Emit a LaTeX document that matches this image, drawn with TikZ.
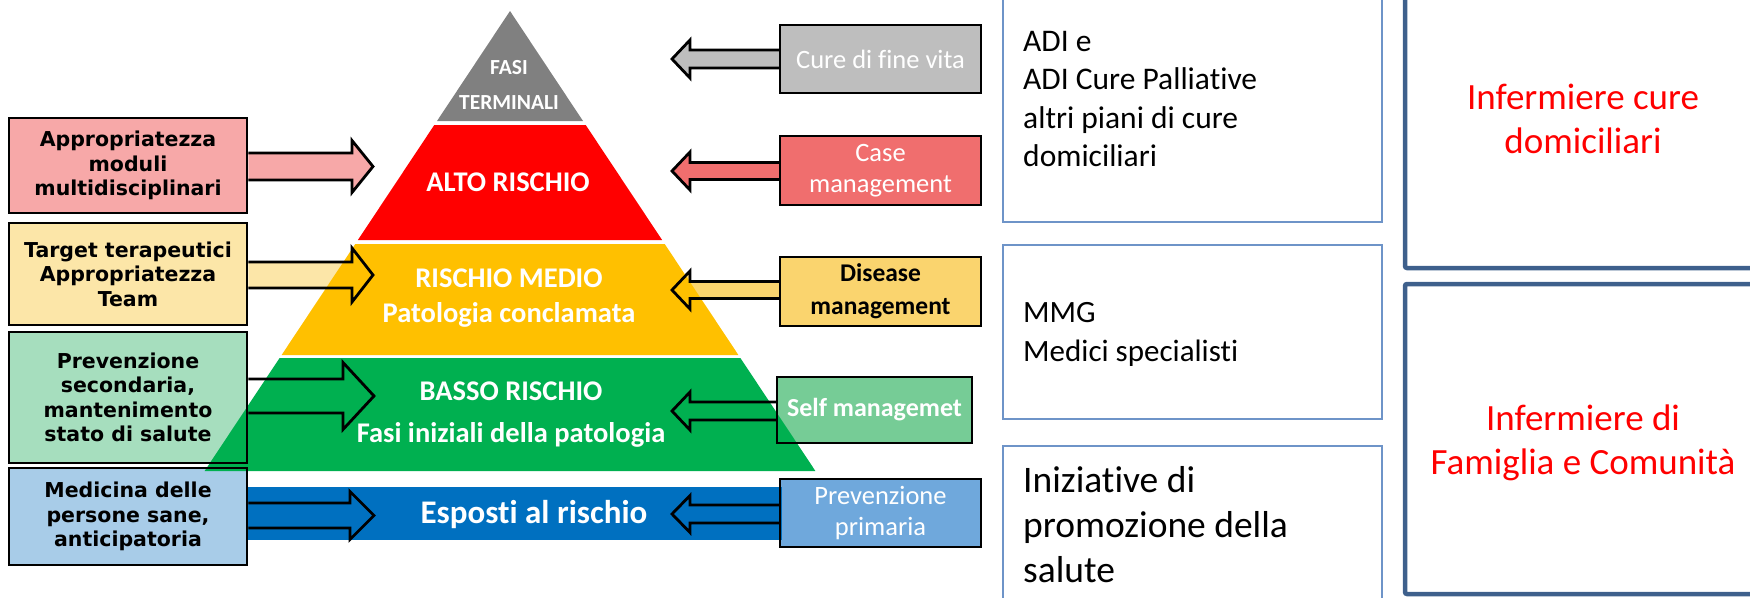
\documentclass[tikz,border=0pt]{standalone}
\usepackage{fontspec}
\setmainfont[Ligatures={NoCommon,NoRare,NoContextual}]{Carlito}
\newfontfamily\verd{DejaVu Sans}
\usetikzlibrary{calc}
\pgfdeclarelayer{bg}
\pgfdeclarelayer{mid}
\pgfsetlayers{bg,mid,main}
\definecolor{pgray}{RGB}{128,128,128}
\definecolor{pred}{RGB}{255,0,0}
\definecolor{pyel}{RGB}{255,192,0}
\definecolor{pgreen}{RGB}{0,176,80}
\definecolor{pblue}{RGB}{0,112,192}
\definecolor{lpink}{RGB}{247,168,168}
\definecolor{lyel}{RGB}{252,230,168}
\definecolor{lgreen}{RGB}{166,222,190}
\definecolor{lblue}{RGB}{168,204,232}
\definecolor{rgray}{RGB}{190,190,190}
\definecolor{rsalmon}{RGB}{240,110,110}
\definecolor{ryel}{RGB}{250,212,110}
\definecolor{rgreen}{RGB}{118,204,150}
\definecolor{rblue}{RGB}{111,168,220}
\definecolor{cthree}{RGB}{110,148,200}
\definecolor{cfour}{RGB}{62,96,140}
% rightward block arrow: #1 box anchor, #2 tip, #3 head length, #4 shaft half, #5 head half, #6 options
\newcommand\rarr[6]{\path[#6] let \p1=(#1), \p2=(#2) in
  (\x1,{\y2+#4pt}) -- ({\x2-#3pt},{\y2+#4pt}) -- ({\x2-#3pt},{\y2+#5pt}) -- (\x2,\y2)
  -- ({\x2-#3pt},{\y2-#5pt}) -- ({\x2-#3pt},{\y2-#4pt}) -- (\x1,{\y2-#4pt});}
\newcommand\larr[6]{\path[#6] let \p1=(#1), \p2=(#2) in
  (\x1,{\y2+#4pt}) -- ({\x2+#3pt},{\y2+#4pt}) -- ({\x2+#3pt},{\y2+#5pt}) -- (\x2,\y2)
  -- ({\x2+#3pt},{\y2-#5pt}) -- ({\x2+#3pt},{\y2-#4pt}) -- (\x1,{\y2-#4pt});}
\tikzset{
  lbox/.style={draw=black, line width=2.5pt, inner sep=0pt, align=center,
    font=\verd\bfseries\fontsize{20.5}{24.5}\selectfont},
  rbox/.style={draw=black, line width=2.5pt, inner sep=0pt, align=center,
    font=\fontsize{26.5}{31}\selectfont},
  tier/.style={text=white, align=center, inner sep=0pt},
  arrowline/.style={draw=black, line width=2.8pt, line join=miter},
  cthreebox/.style={draw=cthree, line width=1.8pt, inner sep=0pt},
  cfourbox/.style={draw=cfour, line width=4.5pt, rounded corners=2pt, inner sep=0pt},
  ctext/.style={anchor=west, align=left, inner sep=0pt},
  redtext/.style={text=red, align=center, inner sep=0pt, font=\fontsize{37}{44}\selectfont}
}
\begin{document}
\begin{tikzpicture}[x=1pt,y=-1pt]
\useasboundingbox (0,0) rectangle (1750,597);
\clip (0,0) rectangle (1750,597);
% left boxes
\node[lbox, minimum width=238, minimum height=95] (b1) at (128,165.5) {Appropriatezza\\moduli\\multidisciplinari};
\node[lbox, minimum width=238, minimum height=102] (b2) at (128,274) {Target terapeutici\\Appropriatezza\\Team};
\node[lbox, minimum width=238, minimum height=131] (b3) at (128,397.5) {Prevenzione\\secondaria,\\mantenimento\\stato di salute};
\node[lbox, minimum width=238, minimum height=97] (b4) at (128,516.5) {Medicina delle\\persone sane,\\anticipatoria};
% right boxes
\node[rbox, text=white, minimum width=201, minimum height=68] (r1) at (880.5,59) {Cure di fine vita};
\node[rbox, text=white, minimum width=201, minimum height=69] (r2) at (880.5,170.5) {Case\\management};
\node[rbox, text=black, font=\bfseries\fontsize{25.5}{33}\selectfont, minimum width=201, minimum height=69] (r3) at (880.5,291.5) {Disease\\management};
\node[rbox, text=white, font=\bfseries\fontsize{26}{31}\selectfont, minimum width=195, minimum height=66] (r4) at (874.5,410) {Self managemet};
\node[rbox, text=white, minimum width=201, minimum height=68] (r5) at (880.5,513) {Prevenzione\\primaria};
% arrow tips
\coordinate (t1) at (373,166.5);
\coordinate (t2) at (373,275);
\coordinate (t3) at (374,396);
\coordinate (t4) at (374,515.5);
\coordinate (u1) at (672,59);
\coordinate (u2) at (672,171);
\coordinate (u3) at (672,290);
\coordinate (u4) at (672,411);
\coordinate (u5) at (672,514);
% fills below the pyramid
\begin{pgfonlayer}{bg}
  \fill[lpink] (b1.south west) rectangle (b1.north east);
  \fill[lyel] (b2.south west) rectangle (b2.north east);
  \fill[lgreen] (b3.south west) rectangle (b3.north east);
  \fill[lblue] (b4.south west) rectangle (b4.north east);
  \fill[rgray] (r1.south west) rectangle (r1.north east);
  \fill[rsalmon] (r2.south west) rectangle (r2.north east);
  \fill[ryel] (r3.south west) rectangle (r3.north east);
  \fill[rgreen] (r4.south west) rectangle (r4.north east);
  \fill[rblue] (r5.south west) rectangle (r5.north east);
  \rarr{b1.east}{t1}{21}{13.5}{26}{fill=lpink}
  \rarr{b2.east}{t2}{21}{13}{27}{fill=lyel}
  \larr{r1.west}{u1}{18}{9}{19}{fill=rgray}
  \larr{r2.west}{u2}{18}{8.5}{19}{fill=rsalmon}
  \larr{r3.west}{u3}{18}{8.5}{19}{fill=ryel}
\end{pgfonlayer}
% pyramid and band
\begin{pgfonlayer}{mid}
  \fill[pgray] (510,11) -- (583,121) -- (437,121) -- cycle;
  \fill[pred] (434.3,125) -- (585.7,125) -- (662.1,240) -- (357.9,240) -- cycle;
  \fill[pyel] (355.3,244) -- (664.7,244) -- (738.4,355) -- (281.6,355) -- cycle;
  \fill[pgreen] (279.6,358) -- (740.4,358) -- (815.4,471) -- (204.6,471) -- cycle;
  \fill[pblue] (247,487) rectangle (782,540);
\end{pgfonlayer}
% tier labels
\node[tier, font=\bfseries\fontsize{21.5}{35}\selectfont] (tfasi) at (509,84.5) {FASI\\TERMINALI};
\node[tier, font=\bfseries\fontsize{28.5}{32}\selectfont] (talto) at (508,182) {ALTO RISCHIO};
\node[tier, font=\bfseries\fontsize{28.5}{35}\selectfont] (tmedio) at (509,298.5) {RISCHIO MEDIO\\Patologia conclamata};
\node[tier, font=\bfseries\fontsize{28.5}{42}\selectfont] (tbasso) at (511,415) {BASSO RISCHIO\\Fasi iniziali della patologia};
\node[tier, font=\bfseries\fontsize{33}{38}\selectfont] (tesp) at (534,515) {Esposti al rischio};
% arrow outlines
\rarr{b1.east}{t1}{21}{13.5}{26}{arrowline}
\rarr{b2.east}{t2}{21}{13}{27}{arrowline}
\rarr{b3.east}{t3}{31}{17}{33.5}{arrowline}
\rarr{b4.east}{t4}{24}{12.5}{24}{arrowline}
\larr{r1.west}{u1}{18}{9}{19}{arrowline}
\larr{r2.west}{u2}{18}{8.5}{19}{arrowline}
\larr{r3.west}{u3}{18}{8.5}{19}{arrowline}
\larr{r4.west}{u4}{18}{9}{19}{arrowline}
\larr{r5.west}{u5}{18}{9}{18.5}{arrowline}
% third column
\node[cthreebox, minimum width=379, minimum height=237] (ca) at (1192.5,103.5) {};
\node[cthreebox, minimum width=379, minimum height=174] (cb) at (1192.5,332) {};
\node[cthreebox, minimum width=379, minimum height=180] (cc) at (1192.5,536) {};
\node[ctext, font=\fontsize{31.5}{38.5}\selectfont] (ta) at (1023,99) {ADI e\\ADI Cure Palliative\\altri piani di cure\\domiciliari};
\node[ctext, font=\fontsize{31}{39}\selectfont] (tb) at (1023,334) {MMG\\Medici specialisti};
\node[ctext, font=\fontsize{37.5}{45}\selectfont] (tc) at (1023,525) {Iniziative di\\promozione della\\salute};
% fourth column
\node[cfourbox, minimum width=410, minimum height=290] (da) at (1610,123) {};
\node[cfourbox, minimum width=410, minimum height=310] (db) at (1610,439) {};
\node[redtext] (ra) at (1583,119) {Infermiere cure\\domiciliari};
\node[redtext] (rb) at (1583,443) {Infermiere di\\Famiglia e Comunità};
\end{tikzpicture}
\end{document}
